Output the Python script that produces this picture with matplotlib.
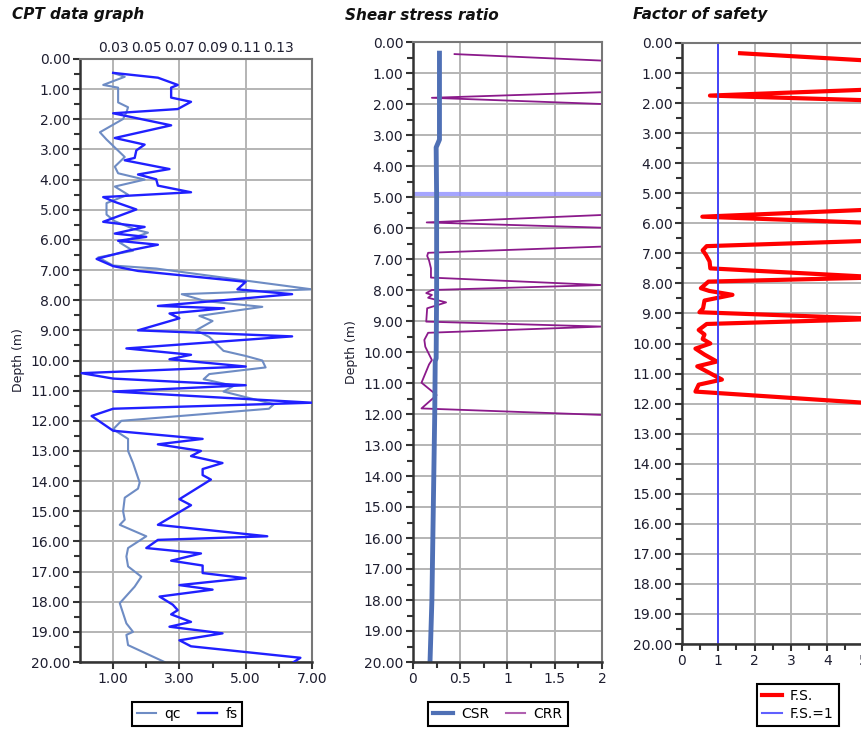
import matplotlib
matplotlib.use("Agg")
import matplotlib.pyplot as plt
from matplotlib.lines import Line2D
from matplotlib.ticker import MultipleLocator, FixedLocator, FormatStrFormatter, FuncFormatter

# CPT profile (qc in MPa on bottom axis, fs in MPa on top axis)
qc_depth = [0.48, 0.59, 0.86, 0.95, 1.44, 1.60, 1.77, 1.99, 2.43, 2.67, 3.25, 3.57,
            3.79, 4.00, 4.23, 4.50, 4.78, 5.16, 5.38, 5.65, 5.76, 6.09, 6.36, 6.58,
            6.85, 6.95, 7.35, 7.64, 7.80, 8.03, 8.22, 8.52, 8.69, 9.00, 9.22, 9.68,
            9.85, 10.00, 10.23, 10.45, 10.62, 10.84, 11.03, 11.45, 11.60, 12.00, 12.28,
            12.60, 13.00, 13.40, 14.05, 14.25, 14.55, 15.00, 15.28, 15.45, 15.83, 16.22,
            16.50, 16.83, 17.00, 17.17, 17.50, 18.05, 18.72, 19.00, 19.10, 19.44, 20.00]
qc = [1.05, 1.35, 0.70, 1.15, 1.15, 1.45, 1.40, 1.30, 0.60, 0.80, 1.35, 1.05,
      1.15, 1.95, 1.05, 1.45, 0.80, 0.80, 1.05, 1.65, 2.05, 1.20, 1.60, 0.55,
      1.00, 2.30, 5.00, 7.00, 3.07, 3.78, 5.50, 3.60, 4.00, 3.50, 3.90, 4.33,
      5.00, 5.50, 5.60, 3.90, 3.73, 4.64, 4.33, 5.85, 5.70, 1.25, 1.00,
      1.45, 1.45, 1.60, 1.80, 1.75, 1.35, 1.30, 1.35, 1.20, 2.00, 1.45,
      1.40, 1.45, 1.65, 1.85, 1.65, 1.20, 1.40, 1.60, 1.40, 1.45, 2.55]

fs_depth = [0.46, 0.62, 0.86, 0.95, 1.28, 1.42, 1.66, 1.80, 2.20, 2.62, 2.84, 3.03,
            3.28, 3.36, 3.65, 3.83, 3.99, 4.20, 4.42, 4.58, 4.74, 4.99, 5.40, 5.49,
            5.57, 5.79, 5.90, 6.03, 6.16, 6.36, 6.63, 6.87, 7.03, 7.39, 7.64, 7.80,
            8.19, 8.27, 8.44, 8.60, 9.00, 9.20, 9.60, 9.81, 9.96, 10.20, 10.42, 10.60,
            10.82, 11.03, 11.40, 11.60, 11.84, 12.33, 12.60, 12.78, 13.00, 13.17, 13.40,
            13.60, 13.80, 13.95, 14.60, 14.80, 15.45, 15.83, 15.95, 16.22, 16.40, 16.64,
            16.80, 17.05, 17.22, 17.45, 17.60, 17.83, 18.10, 18.28, 18.42, 18.67, 18.83,
            19.05, 19.28, 19.48, 19.86, 20.00]
fs = [0.030, 0.057, 0.069, 0.065, 0.065, 0.077, 0.069, 0.030, 0.065, 0.031, 0.049, 0.044,
      0.043, 0.037, 0.064, 0.045, 0.056, 0.057, 0.077, 0.024, 0.031, 0.044, 0.024, 0.037,
      0.049, 0.031, 0.050, 0.033, 0.057, 0.039, 0.020, 0.030, 0.045, 0.110, 0.105, 0.138,
      0.057, 0.097, 0.064, 0.070, 0.045, 0.138, 0.038, 0.077, 0.064, 0.110, 0.011, 0.030,
      0.110, 0.030, 0.150, 0.030, 0.017, 0.030, 0.084, 0.057, 0.083, 0.077, 0.096,
      0.084, 0.084, 0.089, 0.070, 0.077, 0.057, 0.123, 0.057, 0.050, 0.083, 0.065,
      0.084, 0.084, 0.110, 0.070, 0.090, 0.058, 0.066, 0.069, 0.065, 0.077, 0.064,
      0.096, 0.070, 0.077, 0.143, 0.139]

# shear stress ratio
csr_depth = [0.36, 3.15, 3.40, 5.00, 8.00, 10.20, 10.30, 12.00, 14.00, 16.00, 18.00, 20.00]
csr = [0.28, 0.28, 0.245, 0.25, 0.25, 0.245, 0.235, 0.23, 0.22, 0.21, 0.20, 0.18]

crr_depth = [0.39, 0.60, 1.62, 1.80, 2.00, 5.58, 5.82, 5.99, 6.60, 6.80, 6.90, 7.05,
             7.30, 7.60, 7.84, 8.00, 8.10, 8.16, 8.25, 8.40, 8.59, 9.02, 9.18, 9.38,
             9.61, 9.83, 10.26, 10.40, 10.99, 11.39, 11.82, 12.03, 20.00]
crr = [0.44, 2.0, 2.0, 0.20, 2.0, 2.0, 0.145, 2.0, 2.0, 0.16, 0.15, 0.17,
       0.19, 0.19, 2.0, 0.20, 0.14, 0.20, 0.16, 0.35, 0.15, 0.14, 2.0, 0.16,
       0.12, 0.13, 0.20, 0.17, 0.09, 0.25, 0.09, 2.0, 2.0]
gwt_depth = 4.9

# factor of safety (values past the right edge are above 5)
fos_depth = [0.34, 0.61, 1.535, 1.75, 1.92, 5.53, 5.78, 6.00, 6.57, 6.76, 6.90, 7.05,
             7.27, 7.50, 7.80, 7.94, 8.16, 8.25, 8.38, 8.57, 8.83, 8.96, 9.18, 9.35,
             9.55, 9.70, 9.85, 10.00, 10.17, 10.37, 10.60, 10.76, 11.20, 11.37, 11.60,
             12.01, 20.00]
fos = [1.6, 5.5, 5.5, 0.77, 5.5, 5.5, 0.56, 5.5, 5.5, 0.68, 0.57, 0.66,
       0.76, 0.78, 5.5, 0.73, 0.52, 0.75, 1.39, 0.62, 0.58, 0.48, 5.5, 0.68,
       0.46, 0.62, 0.57, 0.78, 0.37, 0.62, 0.96, 0.42, 1.10, 0.46, 0.37,
       5.5, 5.5]

W, H = 862, 730
fig = plt.figure(figsize=(W / 100, H / 100), dpi=100)
tick_col = "#1e1e30"


def add_ax(left, top, right, bottom):
    return fig.add_axes([left / W, 1 - bottom / H, (right - left) / W, (bottom - top) / H])


def style_depth(ax, label):
    ax.set_ylim(20, 0)
    ax.yaxis.set_major_locator(MultipleLocator(1))
    ax.yaxis.set_minor_locator(MultipleLocator(0.5))
    ax.yaxis.set_major_formatter(FormatStrFormatter("%.2f"))
    ax.grid(True, which="major", color="#b4b4b4", lw=1.4)
    ax.set_axisbelow(True)
    ax.tick_params(which="both", direction="out", color="#333333", width=1.5,
                   labelsize=10, labelcolor=tick_col, pad=2)
    ax.tick_params(which="major", length=5)
    ax.tick_params(which="minor", length=4)
    for s in ["left", "bottom"]:
        ax.spines[s].set_color("#333333")
        ax.spines[s].set_linewidth(1.8)
    for s in ["top", "right"]:
        ax.spines[s].set_color("#777777")
        ax.spines[s].set_linewidth(1.5)
    if label:
        ax.set_ylabel("Depth (m)", fontsize=9, color=tick_col, labelpad=4)


def title(x, text):
    fig.text(x / W, 1 - 15 / H, text, fontsize=11, fontweight="bold",
             fontstyle="italic", ha="left", va="center", color="#111111")


def legend(handles, labels, x, y, ncol):
    fig.legend(handles, labels, loc="center", bbox_to_anchor=(x / W, 1 - y / H),
               ncol=ncol, fancybox=False, edgecolor="black", framealpha=1,
               fontsize=10, handlelength=1.4, handletextpad=0.6, columnspacing=1.2,
               borderpad=0.35, labelspacing=0.3).get_frame().set_linewidth(1.5)


# ---- CPT data graph
ax1 = add_ax(80, 59, 312, 662)
style_depth(ax1, True)
ax1.set_xlim(0, 7)
ax1.xaxis.set_major_locator(FixedLocator([1, 3, 5, 7]))
ax1.xaxis.set_minor_locator(FixedLocator([2, 4, 6]))
ax1.xaxis.set_major_formatter(FormatStrFormatter("%.2f"))
ax1.plot(qc, qc_depth, color="#6e8cc4", lw=1.5)
ax1t = ax1.twiny()
ax1t.set_xlim(0.01, 0.15)
ax1t.set_xticks([0.03, 0.05, 0.07, 0.09, 0.11, 0.13])
ax1t.xaxis.set_major_formatter(FormatStrFormatter("%.2f"))
ax1t.tick_params(axis="x", length=0, labelsize=10, labelcolor=tick_col, pad=3)
for s in ax1t.spines.values():
    s.set_visible(False)
ax1t.plot(fs, fs_depth, color="#2020ff", lw=1.7)
title(12, "CPT data graph")
legend([Line2D([], [], color="#6e8cc4", lw=1.5), Line2D([], [], color="#2020ff", lw=1.7)],
       ["qc", "fs"], 187, 714, 2)

# ---- Shear stress ratio
ax2 = add_ax(413, 42, 602, 662)
style_depth(ax2, True)
ax2.set_xlim(0, 2)
ax2.xaxis.set_major_locator(FixedLocator([0, 0.5, 1, 1.5, 2]))
ax2.xaxis.set_minor_locator(FixedLocator([0.25, 0.75, 1.25, 1.75]))
ax2.xaxis.set_major_formatter(FuncFormatter(lambda v, p: f"{v:g}"))
ax2.axhline(gwt_depth, color="#8f8fff", lw=3, alpha=0.8)
ax2.plot(crr, crr_depth, color="#8b1a8b", lw=1.3)
ax2.plot(csr, csr_depth, color="#4f70b5", lw=3.5)
title(345, "Shear stress ratio")
legend([Line2D([], [], color="#4f70b5", lw=3), Line2D([], [], color="#b060b0", lw=1.5)],
       ["CSR", "CRR"], 498, 714, 2)

# ---- Factor of safety
ax3 = add_ax(682, 43, 682 + 6 * 36.3, 644)
style_depth(ax3, False)
ax3.set_xlim(0, 6)
ax3.xaxis.set_major_locator(FixedLocator([0, 1, 2, 3, 4, 5, 6]))
ax3.xaxis.set_minor_locator(FixedLocator([0.5, 1.5, 2.5, 3.5, 4.5, 5.5]))
ax3.grid(True, which="major", axis="x", color="#b4b4b4", lw=1.4)
ax3.plot(fos, fos_depth, color="#ff0000", lw=3)
ax3.axvline(1, color="#3c3cff", lw=1.3)
title(633, "Factor of safety")
legend([Line2D([], [], color="#ff0000", lw=3), Line2D([], [], color="#6060ff", lw=1.5)],
       ["F.S.", "F.S.=1"], 798, 705, 1)

fig.savefig("out.png", dpi=100)
